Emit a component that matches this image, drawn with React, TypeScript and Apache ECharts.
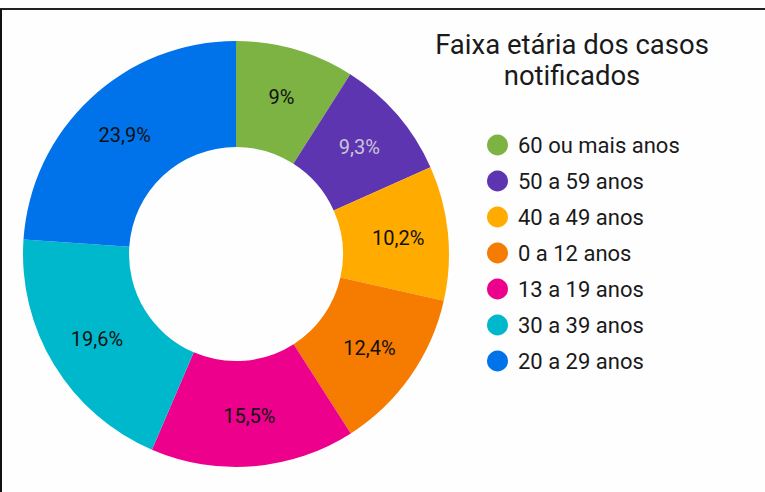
import React, { useEffect, useRef } from "react";
import * as echarts from "echarts";

const categories = ["60 ou mais anos", "50 a 59 anos", "40 a 49 anos", "0 a 12 anos", "13 a 19 anos", "30 a 39 anos", "20 a 29 anos"];
const values = [9, 9.3, 10.2, 12.4, 15.5, 19.6, 23.9];
const colors = ["#7cb342", "#5e35b1", "#ffab00", "#f57c00", "#ec008c", "#00b8cc", "#0073ea"];
const labelColors = ["#111", "#c9c4d8", "#111", "#111", "#111", "#111", "#111"];
const titleText = "Faixa etária dos casos\nnotificados";

export default function App() {
  const ref = useRef<HTMLDivElement>(null);
  useEffect(() => {
    document.body.style.margin = "0";
    const chart = echarts.init(ref.current!, null, { renderer: "svg" });
    chart.setOption({
      animation: false,
      backgroundColor: "#fefefe",
      title: {
        text: titleText,
        left: 567,
        top: 24,
        textAlign: "center",
        textStyle: { fontFamily: "Roboto", fontSize: 27.5, fontWeight: "normal", color: "#1a1a1a", lineHeight: 31 },
      },
      legend: {
        orient: "vertical",
        left: 482,
        top: 129,
        icon: "circle",
        itemWidth: 21,
        itemHeight: 21,
        itemGap: 14,
        data: categories,
        textStyle: { fontFamily: "Roboto", fontSize: 22, color: "#1a1a1a", padding: [0, 0, 0, 5] },
      },
      graphic: [
        { type: "line", shape: { x1: 0, y1: 9, x2: 765, y2: 9 }, style: { stroke: "#222", lineWidth: 2 } },
        { type: "line", shape: { x1: 1, y1: 9, x2: 1, y2: 492 }, style: { stroke: "#111", lineWidth: 2 } },
      ],
      series: [
        {
          type: "pie",
          center: [236, 254],
          radius: [107, 213],
          startAngle: 90,
          clockwise: true,
          avoidLabelOverlap: false,
          label: {
            show: true,
            position: "inside",
            fontFamily: "Roboto",
            fontSize: 20,
            formatter: (p: any) => String(p.value).replace(".", ",") + "%",
          },
          labelLine: { show: false },
          emphasis: { disabled: true },
          data: categories.map((c, i) => ({
            name: c,
            value: values[i],
            itemStyle: { color: colors[i] },
            label: { color: labelColors[i] },
          })),
        },
      ],
    });
    return () => chart.dispose();
  }, []);
  return <div ref={ref} style={{ position: "absolute", left: 0, top: 0, width: 765, height: 492 }} />;
}
